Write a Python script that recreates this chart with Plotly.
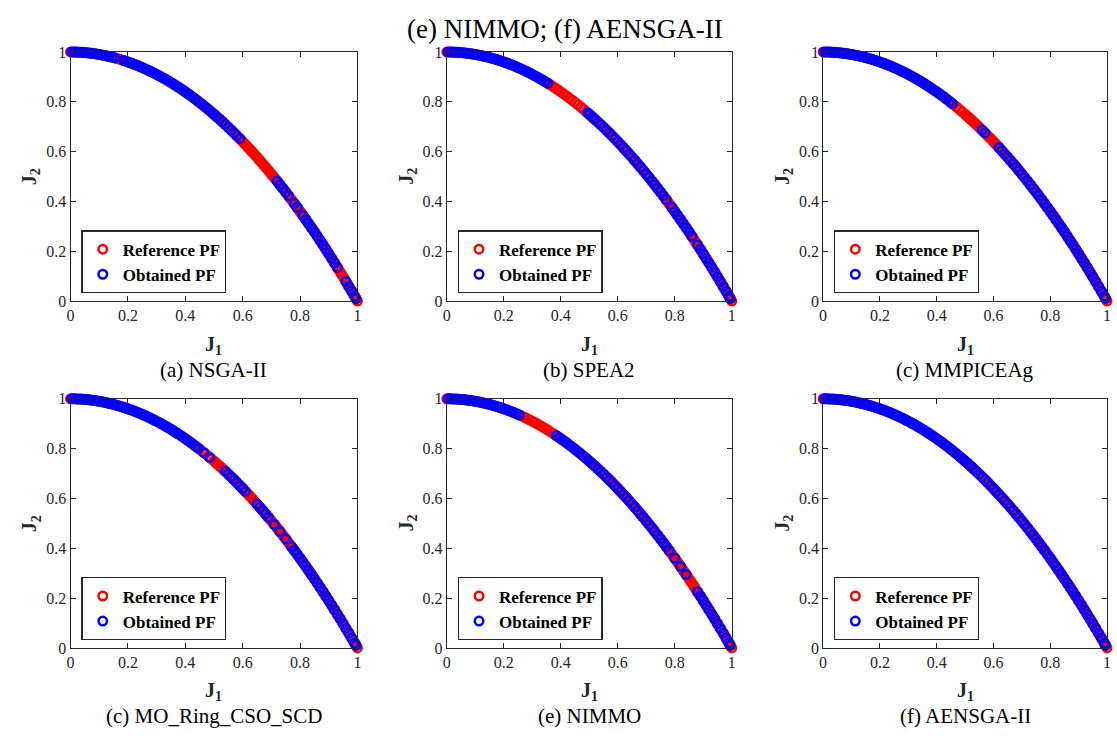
import plotly.graph_objects as go

# ---------------- data ----------------
# Reference Pareto front (J1, J2)
REF_J1 = [0.00, 0.01, 0.02, 0.03, 0.04, 0.05, 0.06, 0.07, 0.08, 0.09,
          0.10, 0.11, 0.12, 0.13, 0.14, 0.15, 0.16, 0.17, 0.18, 0.19,
          0.20, 0.21, 0.22, 0.23, 0.24, 0.25, 0.26, 0.27, 0.28, 0.29,
          0.30, 0.31, 0.32, 0.33, 0.34, 0.35, 0.36, 0.37, 0.38, 0.39,
          0.40, 0.41, 0.42, 0.43, 0.44, 0.45, 0.46, 0.47, 0.48, 0.49,
          0.50, 0.505, 0.51, 0.515, 0.52, 0.525, 0.53, 0.535, 0.54, 0.545,
          0.55, 0.555, 0.56, 0.565, 0.57, 0.575, 0.58, 0.585, 0.59, 0.595,
          0.60, 0.605, 0.61, 0.615, 0.62, 0.625, 0.63, 0.635, 0.64, 0.645,
          0.65, 0.655, 0.66, 0.665, 0.67, 0.675, 0.68, 0.685, 0.69, 0.695,
          0.70, 0.705, 0.71, 0.715, 0.72, 0.725, 0.73, 0.735, 0.74, 0.745,
          0.75, 0.755, 0.76, 0.765, 0.77, 0.775, 0.78, 0.785, 0.79, 0.795,
          0.80, 0.805, 0.81, 0.815, 0.82, 0.825, 0.83, 0.835, 0.84, 0.845,
          0.85, 0.855, 0.86, 0.865, 0.87, 0.875, 0.88, 0.885, 0.89, 0.895,
          0.90, 0.905, 0.91, 0.915, 0.92, 0.925, 0.93, 0.935, 0.94, 0.945,
          0.95, 0.955, 0.96, 0.965, 0.97, 0.975, 0.98, 0.985, 0.99, 0.995,
          1.00]
REF_J2 = [1.0, 0.9999, 0.9996, 0.9991, 0.9984, 0.9975, 0.9964, 0.9951, 0.9936, 0.9919,
          0.99, 0.9879, 0.9856, 0.9831, 0.9804, 0.9775, 0.9744, 0.9711, 0.9676, 0.9639,
          0.96, 0.9559, 0.9516, 0.9471, 0.9424, 0.9375, 0.9324, 0.9271, 0.9216, 0.9159,
          0.91, 0.9039, 0.8976, 0.8911, 0.8844, 0.8775, 0.8704, 0.8631, 0.8556, 0.8479,
          0.84, 0.8319, 0.8236, 0.8151, 0.8064, 0.7975, 0.7884, 0.7791, 0.7696, 0.7599,
          0.75, 0.745, 0.7399, 0.7348, 0.7296, 0.7244, 0.7191, 0.7138, 0.7084, 0.703,
          0.6975, 0.692, 0.6864, 0.6808, 0.6751, 0.6694, 0.6636, 0.6578, 0.6519, 0.646,
          0.64, 0.634, 0.6279, 0.6218, 0.6156, 0.6094, 0.6031, 0.5968, 0.5904, 0.584,
          0.5775, 0.571, 0.5644, 0.5578, 0.5511, 0.5444, 0.5376, 0.5308, 0.5239, 0.517,
          0.51, 0.503, 0.4959, 0.4888, 0.4816, 0.4744, 0.4671, 0.4598, 0.4524, 0.445,
          0.4375, 0.43, 0.4224, 0.4148, 0.4071, 0.3994, 0.3916, 0.3838, 0.3759, 0.368,
          0.36, 0.352, 0.3439, 0.3358, 0.3276, 0.3194, 0.3111, 0.3028, 0.2944, 0.286,
          0.2775, 0.269, 0.2604, 0.2518, 0.2431, 0.2344, 0.2256, 0.2168, 0.2079, 0.199,
          0.19, 0.181, 0.1719, 0.1628, 0.1536, 0.1444, 0.1351, 0.1258, 0.1164, 0.107,
          0.0975, 0.088, 0.0784, 0.0688, 0.0591, 0.0494, 0.0396, 0.0298, 0.0199, 0.01,
          0.0]

# Candidate obtained points (J1, J2) shared by the algorithms
OBT_J1 = [0.005, 0.015, 0.025, 0.035, 0.045, 0.055, 0.065, 0.075, 0.085, 0.095,
          0.105, 0.115, 0.125, 0.135, 0.145, 0.155, 0.165, 0.175, 0.185, 0.195,
          0.205, 0.215, 0.225, 0.235, 0.245, 0.255, 0.265, 0.275, 0.285, 0.295,
          0.305, 0.315, 0.325, 0.335, 0.345, 0.355, 0.365, 0.375, 0.385, 0.395,
          0.405, 0.415, 0.425, 0.435, 0.445, 0.455, 0.465, 0.475, 0.485, 0.495,
          0.50, 0.51, 0.52, 0.53, 0.54, 0.55, 0.56, 0.57, 0.58, 0.59,
          0.60, 0.61, 0.62, 0.63, 0.64, 0.65, 0.66, 0.67, 0.68, 0.69,
          0.70, 0.71, 0.72, 0.73, 0.74, 0.75, 0.76, 0.77, 0.78, 0.79,
          0.80, 0.81, 0.82, 0.83, 0.84, 0.85, 0.86, 0.87, 0.88, 0.89,
          0.90, 0.91, 0.92, 0.93, 0.94, 0.95, 0.96, 0.97, 0.98, 0.99,
          0.995]
OBT_J2 = [1.0, 0.9998, 0.9994, 0.9988, 0.998, 0.997, 0.9958, 0.9944, 0.9928, 0.991,
          0.989, 0.9868, 0.9844, 0.9818, 0.979, 0.976, 0.9728, 0.9694, 0.9658, 0.962,
          0.958, 0.9538, 0.9494, 0.9448, 0.94, 0.935, 0.9298, 0.9244, 0.9188, 0.913,
          0.907, 0.9008, 0.8944, 0.8878, 0.881, 0.874, 0.8668, 0.8594, 0.8518, 0.844,
          0.836, 0.8278, 0.8194, 0.8108, 0.802, 0.793, 0.7838, 0.7744, 0.7648, 0.755,
          0.75, 0.7399, 0.7296, 0.7191, 0.7084, 0.6975, 0.6864, 0.6751, 0.6636, 0.6519,
          0.64, 0.6279, 0.6156, 0.6031, 0.5904, 0.5775, 0.5644, 0.5511, 0.5376, 0.5239,
          0.51, 0.4959, 0.4816, 0.4671, 0.4524, 0.4375, 0.4224, 0.4071, 0.3916, 0.3759,
          0.36, 0.3439, 0.3276, 0.3111, 0.2944, 0.2775, 0.2604, 0.2431, 0.2256, 0.2079,
          0.19, 0.1719, 0.1536, 0.1351, 0.1164, 0.0975, 0.0784, 0.0591, 0.0396, 0.0199,
          0.01]

# J1-intervals where each algorithm found no solutions
GAPS_NSGA2 = [(0.16, 0.18), (0.60, 0.71), (0.765, 0.775), (0.795, 0.805), (0.935, 0.955)]
GAPS_SPEA2 = [(0.36, 0.49), (0.775, 0.785), (0.865, 0.875)]
GAPS_MMPICEAG = [(0.46, 0.555), (0.575, 0.615)]
GAPS_MORING = [(0.45, 0.46), (0.47, 0.48), (0.49, 0.535), (0.615, 0.645),
               (0.695, 0.705), (0.715, 0.725), (0.735, 0.745), (0.755, 0.765)]
GAPS_NIMMO = [(0.26, 0.38), (0.785, 0.795), (0.805, 0.815), (0.825, 0.835), (0.845, 0.875)]
GAPS_AENSGA2 = []

CAPTIONS = ["(a) NSGA-II", "(b) SPEA2", "(c) MMPICEAg",
            "(c) MO_Ring_CSO_SCD", "(e) NIMMO", "(f) AENSGA-II"]
GAPS = [GAPS_NSGA2, GAPS_SPEA2, GAPS_MMPICEAG, GAPS_MORING, GAPS_NIMMO, GAPS_AENSGA2]
TITLE = "(e) NIMMO; (f) AENSGA-II"
TICKS = [0, 0.2, 0.4, 0.6, 0.8, 1]
TICK_TEXT = ["0", "0.2", "0.4", "0.6", "0.8", "1"]

# ---------------- layout geometry (pixels) ----------------
W, H = 1117, 740
COLS = [(67, 356), (446, 733), (825, 1111)]
ROWS = [(45, 300), (400, 655)]
FONT = "Times New Roman, Liberation Serif, serif"
AX_COLOR = "#262626"

fig = go.Figure()
layout = dict(width=W, height=H, margin=dict(l=0, r=0, t=0, b=0),
              paper_bgcolor="white", plot_bgcolor="white",
              font=dict(family=FONT, color=AX_COLOR), showlegend=True)
annotations = []

MSIZE = 8.5
MLINE = 2.5

for i in range(6):
    r, c = divmod(i, 3)
    n = i + 1
    sfx = "" if n == 1 else str(n)
    x0, x1 = COLS[c]
    y0, y1 = ROWS[r]
    leg = "legend" + sfx

    gaps = GAPS[i]
    ox, oy = [], []
    for xv, yv in zip(OBT_J1, OBT_J2):
        if not any(lo <= xv <= hi for lo, hi in gaps):
            ox.append(xv)
            oy.append(yv)

    fig.add_trace(go.Scatter(
        x=REF_J1, y=REF_J2, mode="markers", name="<b>Reference PF</b>",
        marker=dict(symbol="circle-open", size=MSIZE, color="#ff0000", line=dict(width=MLINE)),
        xaxis="x" + sfx, yaxis="y" + sfx, legend=leg, cliponaxis=False,
        hoverinfo="skip"))
    fig.add_trace(go.Scatter(
        x=ox, y=oy, mode="markers", name="<b>Obtained PF</b>",
        marker=dict(symbol="circle-open", size=MSIZE, color="#0000ff", line=dict(width=MLINE)),
        xaxis="x" + sfx, yaxis="y" + sfx, legend=leg, cliponaxis=False,
        hoverinfo="skip"))

    axis_common = dict(range=[0, 1], tickvals=TICKS, ticktext=TICK_TEXT,
                       ticks="inside", ticklen=5, tickwidth=1, tickcolor=AX_COLOR,
                       showline=True, linecolor=AX_COLOR, linewidth=1, mirror="ticks",
                       showgrid=False, zeroline=False,
                       tickfont=dict(family=FONT, size=16, color=AX_COLOR))
    layout["xaxis" + sfx] = dict(axis_common, domain=[x0 / W, x1 / W], anchor="y" + sfx)
    layout["yaxis" + sfx] = dict(axis_common, domain=[1 - y1 / H, 1 - y0 / H], anchor="x" + sfx)

    layout[leg] = dict(x=(x0 + 11) / W, y=1 - (y1 - 8) / H, xanchor="left", yanchor="bottom",
                       bgcolor="white", bordercolor="#262626", borderwidth=1.3,
                       font=dict(family=FONT, size=17, color="black"),
                       tracegroupgap=0)

    xc = (x0 + x1) / 2
    annotations.append(dict(x=xc / W, y=1 - (y1 + 45) / H, xref="paper", yref="paper",
                            text="<b>J<sub>1</sub></b>", showarrow=False,
                            font=dict(family=FONT, size=20, color=AX_COLOR),
                            xanchor="center", yanchor="middle"))
    annotations.append(dict(x=(x0 - 40) / W, y=1 - ((y0 + y1) / 2) / H, xref="paper", yref="paper",
                            text="<b>J<sub>2</sub></b>", showarrow=False, textangle=-90,
                            font=dict(family=FONT, size=20, color=AX_COLOR),
                            xanchor="center", yanchor="middle"))
    annotations.append(dict(x=xc / W, y=1 - (y1 + 70) / H, xref="paper", yref="paper",
                            text=CAPTIONS[i], showarrow=False,
                            font=dict(family=FONT, size=21, color="black"),
                            xanchor="center", yanchor="middle"))

annotations.append(dict(x=565 / W, y=1 - 21 / H, xref="paper", yref="paper",
                        text=TITLE, showarrow=False,
                        font=dict(family=FONT, size=27, color="black"),
                        xanchor="center", yanchor="middle"))
layout["annotations"] = annotations
fig.update_layout(**layout)
fig.write_html("out.html")
